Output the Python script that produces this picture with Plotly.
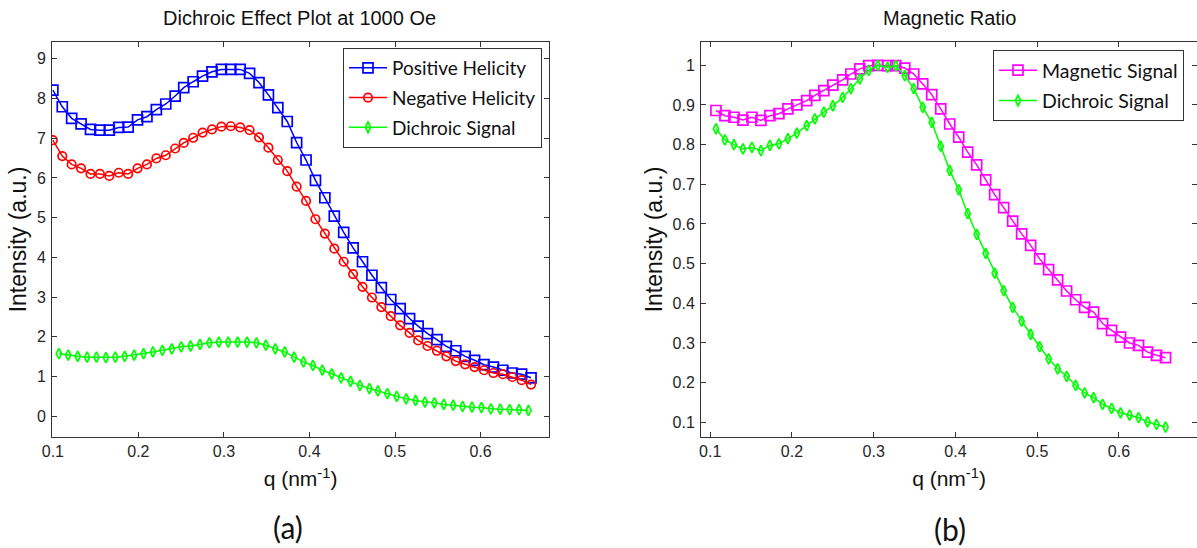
import plotly.graph_objects as go

# ---------------- data ----------------
q_hel = [0.100, 0.111, 0.122, 0.133, 0.144, 0.155, 0.166, 0.177, 0.188, 0.199,
         0.210, 0.221, 0.232, 0.243, 0.253, 0.264, 0.275, 0.286, 0.297, 0.308,
         0.319, 0.330, 0.341, 0.352, 0.363, 0.374, 0.385, 0.396, 0.407, 0.418,
         0.429, 0.440, 0.451, 0.462, 0.473, 0.484, 0.495, 0.506, 0.517, 0.527,
         0.538, 0.549, 0.560, 0.571, 0.582, 0.593, 0.604, 0.615, 0.626, 0.637,
         0.648, 0.659]
positive = [8.21, 7.79, 7.50, 7.36, 7.22, 7.20, 7.20, 7.27, 7.28, 7.46,
            7.54, 7.72, 7.86, 8.06, 8.27, 8.42, 8.56, 8.67, 8.73, 8.73,
            8.73, 8.63, 8.40, 8.09, 7.77, 7.42, 6.89, 6.45, 5.94, 5.50,
            5.04, 4.63, 4.24, 3.89, 3.55, 3.24, 2.94, 2.71, 2.46, 2.27,
            2.08, 1.93, 1.76, 1.65, 1.51, 1.41, 1.30, 1.24, 1.16, 1.09,
            1.06, 0.97]
negative = [6.95, 6.55, 6.34, 6.24, 6.10, 6.10, 6.05, 6.13, 6.10, 6.24,
            6.34, 6.49, 6.57, 6.74, 6.88, 7.01, 7.14, 7.22, 7.29, 7.30,
            7.27, 7.20, 7.02, 6.76, 6.45, 6.17, 5.78, 5.42, 4.96, 4.60,
            4.22, 3.89, 3.58, 3.26, 2.99, 2.75, 2.52, 2.29, 2.10, 1.91,
            1.77, 1.65, 1.51, 1.39, 1.31, 1.24, 1.16, 1.09, 1.06, 0.99,
            0.91, 0.80]

q_dich = [0.107, 0.118, 0.129, 0.140, 0.151, 0.162, 0.173, 0.184, 0.195, 0.206,
          0.217, 0.228, 0.239, 0.250, 0.261, 0.272, 0.283, 0.294, 0.305, 0.316,
          0.327, 0.338, 0.349, 0.360, 0.371, 0.382, 0.393, 0.404, 0.415, 0.426,
          0.437, 0.448, 0.459, 0.470, 0.480, 0.491, 0.502, 0.513, 0.524, 0.535,
          0.546, 0.557, 0.568, 0.579, 0.590, 0.601, 0.612, 0.623, 0.634, 0.645,
          0.656]
dichroic = [1.58, 1.54, 1.51, 1.49, 1.49, 1.48, 1.49, 1.51, 1.54, 1.58,
            1.62, 1.66, 1.70, 1.75, 1.77, 1.81, 1.85, 1.87, 1.87, 1.87,
            1.87, 1.85, 1.79, 1.70, 1.62, 1.49, 1.37, 1.28, 1.16, 1.07,
            0.97, 0.88, 0.78, 0.70, 0.64, 0.57, 0.50, 0.44, 0.40, 0.36,
            0.34, 0.30, 0.28, 0.25, 0.23, 0.22, 0.19, 0.18, 0.17, 0.17,
            0.15]

q_ratio = [0.107, 0.118, 0.129, 0.140, 0.151, 0.162, 0.173, 0.184, 0.195, 0.206,
           0.218, 0.228, 0.239, 0.250, 0.262, 0.272, 0.283, 0.294, 0.305, 0.317,
           0.327, 0.338, 0.349, 0.360, 0.371, 0.382, 0.393, 0.404, 0.415, 0.426,
           0.437, 0.448, 0.459, 0.470, 0.481, 0.492, 0.503, 0.514, 0.525, 0.536,
           0.547, 0.558, 0.569, 0.580, 0.591, 0.602, 0.613, 0.624, 0.635, 0.646,
           0.657]
magnetic_norm = [0.886, 0.873, 0.869, 0.862, 0.869, 0.861, 0.873, 0.878, 0.890, 0.900,
                 0.911, 0.924, 0.936, 0.950, 0.963, 0.978, 0.991, 0.999, 1.000, 0.999,
                 0.999, 0.993, 0.978, 0.953, 0.926, 0.890, 0.852, 0.819, 0.781, 0.749,
                 0.711, 0.674, 0.641, 0.607, 0.575, 0.546, 0.512, 0.485, 0.459, 0.431,
                 0.409, 0.390, 0.378, 0.349, 0.332, 0.315, 0.300, 0.294, 0.277, 0.269,
                 0.263]
dichroic_norm = [0.840, 0.812, 0.800, 0.789, 0.793, 0.785, 0.798, 0.802, 0.815, 0.829,
                 0.848, 0.865, 0.882, 0.898, 0.919, 0.941, 0.966, 0.987, 1.000, 0.995,
                 0.999, 0.974, 0.941, 0.894, 0.856, 0.796, 0.735, 0.686, 0.626, 0.574,
                 0.526, 0.476, 0.432, 0.390, 0.355, 0.322, 0.291, 0.260, 0.235, 0.216,
                 0.193, 0.174, 0.162, 0.145, 0.135, 0.124, 0.118, 0.112, 0.101, 0.095,
                 0.088]

x_ticks = [0.1, 0.2, 0.3, 0.4, 0.5, 0.6]
y_ticks_a = [0, 1, 2, 3, 4, 5, 6, 7, 8, 9]
y_ticks_b = [0.1, 0.2, 0.3, 0.4, 0.5, 0.6, 0.7, 0.8, 0.9, 1.0]

# ---------------- styling ----------------
W, H = 1197, 548
TICK_FONT = dict(family="Liberation Sans Narrow, Liberation Sans, Arial", size=16, color="#262626")
XLABEL_FONT = dict(family="Liberation Sans, Arial", size=21, color="#111111")
YLABEL_FONT = dict(family="Liberation Sans, Arial", size=23, color="#111111")
TITLE_FONT = dict(family="Liberation Sans, Arial", size=20, color="#111111")
LEG_FONT = dict(family="Lato, Open Sans, sans-serif", size=19, color="#111111")
LEG_FONT2 = dict(family="Lato, Open Sans, sans-serif", size=19.5, color="#111111")
AXC = "#333333"
LW = 1.5


def px_x(p):
    return p / W


def px_y(p):
    return 1 - p / H


fig = go.Figure()

fig.add_trace(go.Scatter(
    x=q_hel, y=positive, name="Positive Helicity", mode="lines+markers",
    line=dict(color="#0000FF", width=LW),
    marker=dict(symbol="square-open", size=10, color="#0000FF", line=dict(width=1.7)),
    xaxis="x", yaxis="y", legend="legend", legendgroup="a1"))
fig.add_trace(go.Scatter(
    x=q_hel, y=negative, name="Negative Helicity", mode="lines+markers",
    line=dict(color="#FF0000", width=LW),
    marker=dict(symbol="circle-open", size=8.5, color="#FF0000", line=dict(width=1.7)),
    xaxis="x", yaxis="y", legend="legend", legendgroup="a2"))
fig.add_trace(go.Scatter(
    x=q_dich, y=dichroic, name="Dichroic Signal", mode="lines+markers",
    line=dict(color="#00FF00", width=LW),
    marker=dict(symbol="diamond-tall-open", size=7.5, color="#00FF00", line=dict(width=1.7)),
    xaxis="x", yaxis="y", legend="legend", legendgroup="a3"))

fig.add_trace(go.Scatter(
    x=q_ratio, y=magnetic_norm, name="Magnetic Signal", mode="lines+markers",
    line=dict(color="#FF00FF", width=LW),
    marker=dict(symbol="square-open", size=10, color="#FF00FF", line=dict(width=1.7)),
    xaxis="x2", yaxis="y2", legend="legend2", legendgroup="b1"))
fig.add_trace(go.Scatter(
    x=q_ratio, y=dichroic_norm, name="Dichroic Signal", mode="lines+markers",
    line=dict(color="#00FF00", width=LW),
    marker=dict(symbol="diamond-tall-open", size=7.5, color="#00FF00", line=dict(width=1.7)),
    xaxis="x2", yaxis="y2", legend="legend2", legendgroup="b2"))

ydom = [px_y(437), px_y(42)]

common_axis = dict(
    showgrid=False, zeroline=False, showline=True, linecolor=AXC, linewidth=1,
    mirror="ticks", ticks="inside", ticklen=5, tickwidth=1, tickcolor=AXC,
    tickfont=TICK_FONT, automargin=False,
)

fig.update_layout(
    width=W, height=H, autosize=False,
    margin=dict(l=0, r=0, t=0, b=0),
    paper_bgcolor="white", plot_bgcolor="white",
    showlegend=True,
    xaxis=dict(common_axis, domain=[px_x(52), px_x(549)], range=[0.099, 0.68],
               tickvals=x_ticks, ticktext=[str(v) for v in x_ticks],
               anchor="y",
               title=dict(text="q (nm<sup>-1</sup>)", font=XLABEL_FONT, standoff=12)),
    yaxis=dict(common_axis, domain=ydom, range=[-0.52, 9.42],
               tickvals=y_ticks_a, ticktext=[str(v) for v in y_ticks_a],
               anchor="x", ticklabelstandoff=2,
               title=dict(text="Intensity (a.u.)", font=YLABEL_FONT, standoff=3)),
    xaxis2=dict(common_axis, domain=[px_x(701), 1.0], range=[0.0887, 0.6955],
                tickvals=x_ticks, ticktext=[str(v) for v in x_ticks],
                anchor="y2",
                title=dict(text="q (nm<sup>-1</sup>)", font=XLABEL_FONT, standoff=12)),
    yaxis2=dict(common_axis, domain=ydom, range=[0.063, 1.0587],
                tickvals=y_ticks_b, ticktext=["0.1", "0.2", "0.3", "0.4", "0.5", "0.6", "0.7", "0.8", "0.9", "1"],
                anchor="x2", ticklabelstandoff=2,
                title=dict(text="Intensity (a.u.)", font=YLABEL_FONT, standoff=3)),
    legend=dict(x=px_x(343), y=px_y(48), xanchor="left", yanchor="top",
                bgcolor="white", bordercolor=AXC, borderwidth=1,
                font=LEG_FONT, tracegroupgap=2, itemwidth=38, itemclick=False),
    legend2=dict(x=px_x(993), y=px_y(50), xanchor="left", yanchor="top",
                 bgcolor="white", bordercolor=AXC, borderwidth=1,
                 font=LEG_FONT2, tracegroupgap=2, itemwidth=38, itemclick=False),
    annotations=[
        dict(text="Dichroic Effect Plot at 1000 Oe", x=px_x(299), y=px_y(18),
             xref="paper", yref="paper", xanchor="center", yanchor="middle",
             showarrow=False, font=TITLE_FONT),
        dict(text="Magnetic Ratio", x=px_x(949), y=px_y(18),
             xref="paper", yref="paper", xanchor="center", yanchor="middle",
             showarrow=False, font=TITLE_FONT),
        dict(text="(a)", x=px_x(288), y=px_y(527),
             xref="paper", yref="paper", xanchor="center", yanchor="middle",
             showarrow=False, font=dict(family="Lato, Open Sans, sans-serif", size=30, color="#111111")),
        dict(text="(b)", x=px_x(950), y=px_y(529),
             xref="paper", yref="paper", xanchor="center", yanchor="middle",
             showarrow=False, font=dict(family="Lato, Open Sans, sans-serif", size=30, color="#111111")),
    ],
)

fig.write_html("out.html")
